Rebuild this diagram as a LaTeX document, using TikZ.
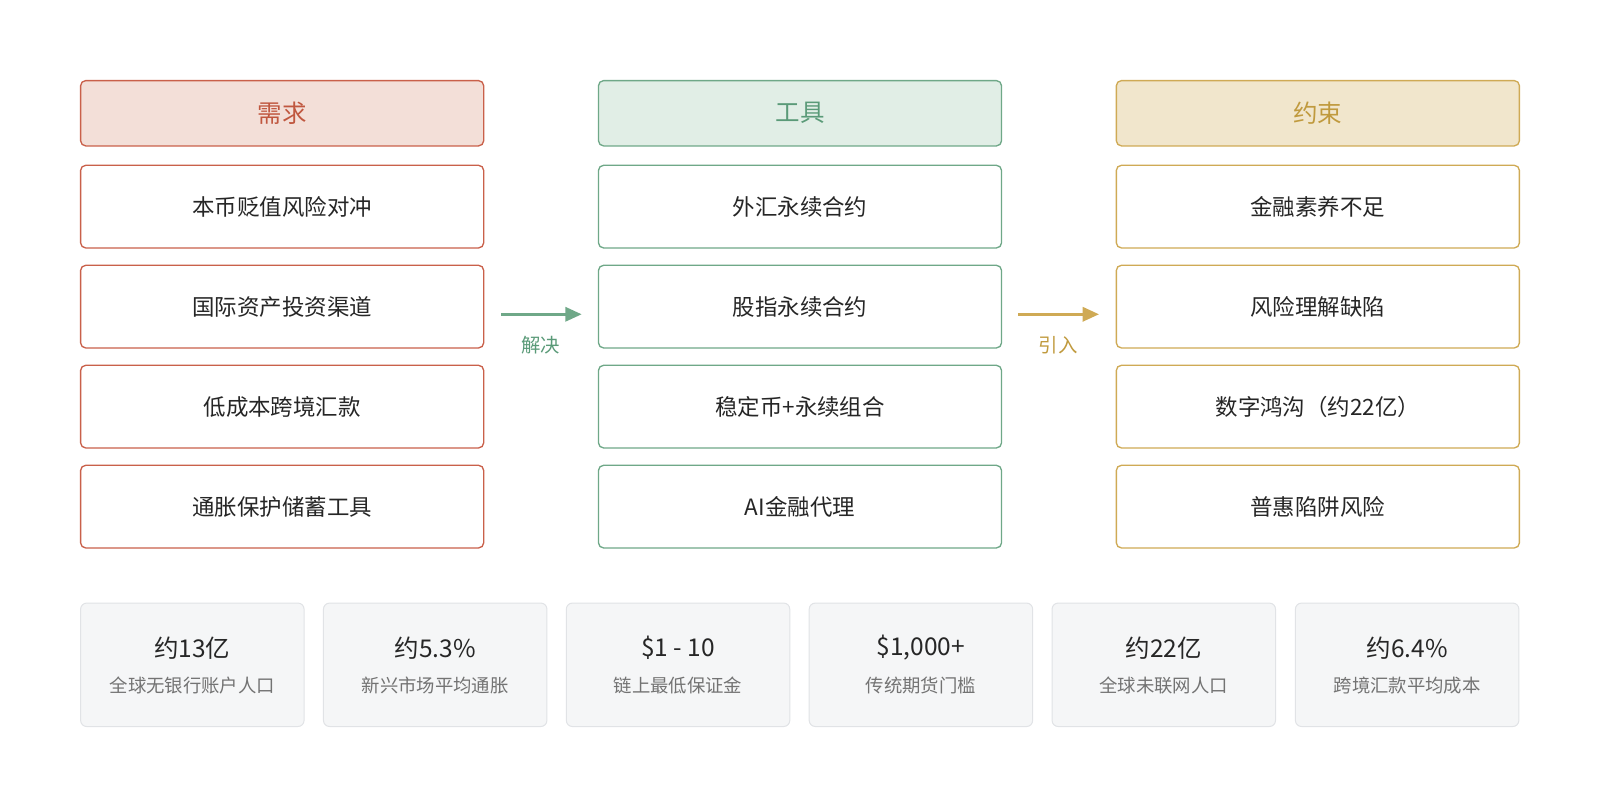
\documentclass[tikz,border=0pt]{standalone}
\usepackage{fontspec}
\setmainfont{Noto Sans CJK SC}
\usetikzlibrary{arrows.meta}
\definecolor{rB}{HTML}{C9604A}\definecolor{rF}{HTML}{F3DFD8}\definecolor{rT}{HTML}{C0573F}
\definecolor{gB}{HTML}{6FA888}\definecolor{gF}{HTML}{E1EEE6}\definecolor{gT}{HTML}{5A9A78}
\definecolor{yB}{HTML}{CFAA55}\definecolor{yF}{HTML}{F1E6CC}\definecolor{yT}{HTML}{C09A3E}
\definecolor{cF}{HTML}{F5F6F7}\definecolor{cB}{HTML}{E1E3E6}
\begin{document}
\begin{tikzpicture}[x=1pt,y=-1pt,
 hd/.style={draw=#1B,fill=#1F,text=#1T,line width=1.3pt,rounded corners=5pt,minimum width=395pt,minimum height=64pt,font=\fontsize{24}{28}\selectfont,inner sep=0pt},
 it/.style={draw=#1B,fill=white,text=black!85,line width=1.3pt,rounded corners=5pt,minimum width=395pt,minimum height=81pt,font=\fontsize{22}{26}\selectfont,inner sep=0pt},
 cd/.style={draw=cB,fill=cF,line width=1pt,rounded corners=6pt,minimum width=219pt,minimum height=121pt,inner sep=0pt},
 ar/.style={line width=2.5pt,draw=#1,-{Triangle[length=16pt,width=14pt]}},
 lb/.style={font=\fontsize{19}{22}\selectfont,text=#1}]
\foreach \c/\x/\h/\a/\b/\cc/\d [count=\i] in {r/276.5/需求/本币贬值风险对冲/国际资产投资渠道/低成本跨境汇款/通胀保护储蓄工具, g/784/工具/外汇永续合约/股指永续合约/稳定币+永续组合/AI金融代理, y/1291.5/约束/金融素养不足/风险理解缺陷/数字鸿沟（约22亿）/普惠陷阱风险}{
 \node[hd=\c] (h\i) at (\x,111) {\h};
 \node[it=\c] (a\i) at (\x,202.5) {\a};
 \node[it=\c] (b\i) at (\x,300.5) {\b};
 \node[it=\c] (c\i) at (\x,398.5) {\cc};
 \node[it=\c] (d\i) at (\x,496.5) {\d};
}
\coordinate (s1) at (491,308); \coordinate (e1) at (570,308);
\coordinate (s2) at (998,308); \coordinate (e2) at (1077,308);
\draw[ar=gB] (s1) -- (e1);
\draw[ar=yB] (s2) -- (e2);
\node[lb=gT] (l1) at (530,338) {解决};
\node[lb=yT] (l2) at (1037,338) {引入};
\foreach \x/\n/\t [count=\i] in {188.5/约13亿/全球无银行账户人口, 426.5/约5.3\%/新兴市场平均通胀, 664.5/\$1 - 10/链上最低保证金, 902.5/{\$1,000+}/传统期货门槛, 1140.5/约22亿/全球未联网人口, 1379/约6.4\%/跨境汇款平均成本}{
 \node[cd] (k\i) at (\x,651.5) {};
 \node[font=\fontsize{24}{28}\selectfont,text=black!85] (n\i) at (\x,635) {\n};
 \node[font=\fontsize{18}{22}\selectfont,text=black!55] (t\i) at (\x,672) {\t};
}
\pgfresetboundingbox
\useasboundingbox (0,0) rectangle (1568,791);
\end{tikzpicture}
\end{document}
